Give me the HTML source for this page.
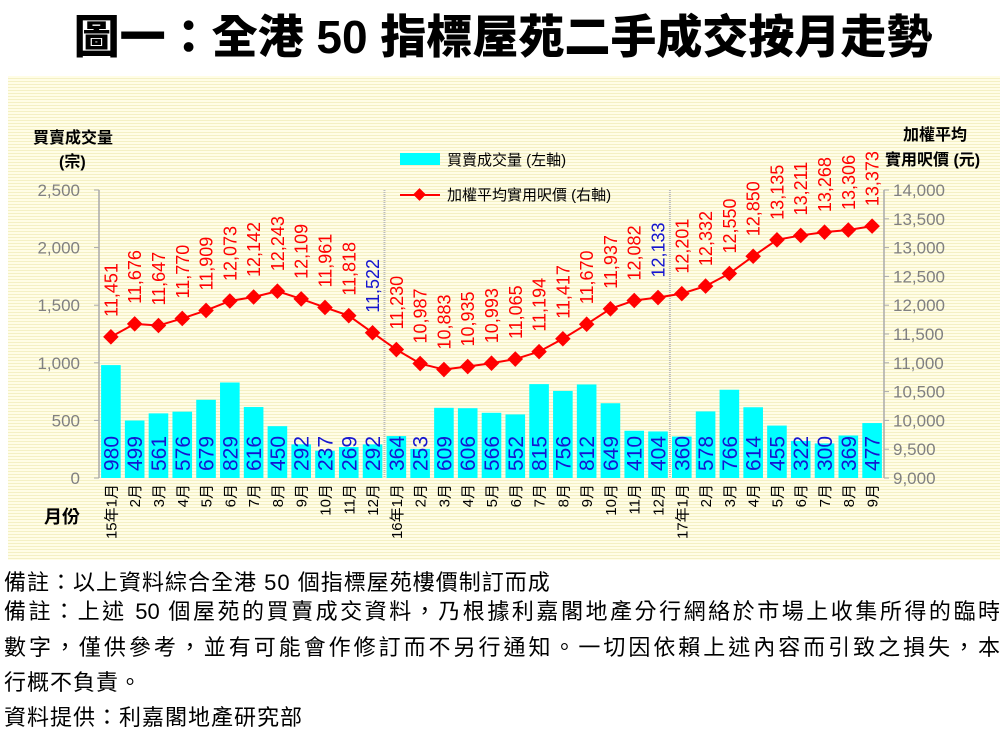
<!DOCTYPE html>
<html><head><meta charset="utf-8">
<style>
body{margin:0;width:1006px;height:741px;background:#fff;overflow:hidden;font-family:"Liberation Sans","Noto Sans CJK TC",sans-serif;}
.title{position:absolute;left:0;top:1px;width:1006px;text-align:center;font-family:"Liberation Sans","Noto Sans CJK TC",sans-serif;font-weight:900;font-size:46px;}
.panel{position:absolute;left:8px;top:76px;width:992px;height:484px;background:repeating-linear-gradient(180deg,#fffde6 0px,#fffde6 2px,#f4f0c4 2px,#f4f0c4 3px);}
.n{position:absolute;left:4px;width:996px;font-size:22px;letter-spacing:1px;line-height:24px;color:#000;white-space:nowrap;font-family:"Liberation Sans","Noto Sans CJK TC",sans-serif;}
.j{text-align:justify;text-align-last:justify;white-space:normal;letter-spacing:0;}
svg{position:absolute;left:0;top:0;}
</style></head><body>
<div class="title">圖一：全港 50 指標屋苑二手成交按月走勢</div>
<div class="panel"></div>
<svg id="s" width="1006" height="741" font-family="Liberation Sans, Noto Sans CJK TC, sans-serif"></svg>
<div class="n" style="top:571px">備註：以上資料綜合全港 50 個指標屋苑樓價制訂而成</div>
<div class="n j" style="top:600px">備註：上述 50 個屋苑的買賣成交資料，乃根據利嘉閣地產分行網絡於市場上收集所得的臨時</div>
<div class="n j" style="top:636px">數字，僅供參考，並有可能會作修訂而不另行通知。一切因依賴上述內容而引致之損失，本</div>
<div class="n" style="top:671px">行概不負責。</div>
<div class="n" style="top:706px">資料提供：利嘉閣地產研究部</div>
<script>
const bars=[980,499,561,576,679,829,616,450,292,237,269,292,364,253,609,606,566,552,815,756,812,649,410,404,360,578,766,614,455,322,300,369,477];
const pr=[11451,11676,11647,11770,11909,12073,12142,12243,12109,11961,11818,11522,11230,10987,10883,10935,10993,11065,11194,11417,11670,11937,12082,12133,12201,12332,12550,12850,13135,13211,13268,13306,13373];
const L=99,R=884,B=478,T=190,W=(R-L)/33;
const yb=v=>B-v/2500*(B-T), yp=v=>B-(v-9000)/5000*(B-T);
let s='';
const fmt=v=>v.toLocaleString('en-US');
s+=`<line x1="${L}" y1="${T}" x2="${L}" y2="${B}" stroke="#aaa" stroke-width="1.5"/>`;
s+=`<line x1="${R}" y1="${T}" x2="${R}" y2="${B}" stroke="#aaa" stroke-width="1.5"/>`;
for(let i=0;i<=5;i++){let y=yb(i*500);s+=`<line x1="${L-5}" y1="${y}" x2="${L}" y2="${y}" stroke="#aaa"/><text x="${L-19}" y="${y+6}" font-size="17" fill="#808080" text-anchor="end">${fmt(i*500)}</text>`;}
for(let i=0;i<=10;i++){let v=9000+i*500,y=yp(v);s+=`<line x1="${R}" y1="${y}" x2="${R+5}" y2="${y}" stroke="#aaa"/><text x="${R+9}" y="${y+6}" font-size="17" fill="#808080">${fmt(v)}</text>`;}
[12,24].forEach(k=>{let x=L+k*W;s+=`<line x1="${x}" y1="${T}" x2="${x}" y2="${B}" stroke="#bbb" stroke-width="2" stroke-dasharray="1 1"/>`;});
const months=[];for(let i=0;i<33;i++){let m=i%12+1;let t=m+'月';if(i==0)t='15年1月';if(i==12)t='16年1月';if(i==24)t='17年1月';months.push(t);}
let pts=[];
bars.forEach((v,i)=>{let cx=L+W*(i+0.5);let y=yb(v);
s+=`<rect x="${cx-9.8}" y="${y}" width="19.6" height="${B-y}" fill="#00ffff"/>`;
s+=`<text transform="translate(${cx+7.5},${B-7}) rotate(-90)" font-size="21" fill="#1515d0">${v}</text>`;
s+=`<text transform="translate(${cx+5.5},${B+6}) rotate(-90)" font-size="15" fill="#000" text-anchor="end">${months[i]}</text>`;
pts.push([cx,yp(pr[i])]);});
s+=`<polyline points="${pts.map(p=>p.join(',')).join(' ')}" fill="none" stroke="#ff0000" stroke-width="2"/>`;
pts.forEach((p,i)=>{s+=`<rect x="${p[0]-5.5}" y="${p[1]-5.5}" width="11" height="11" fill="#ff0000" transform="rotate(45 ${p[0]} ${p[1]})"/>`;
let col=(i==11||i==23)?'#1515d0':'#ff0000';
s+=`<text transform="translate(${p[0]+6.5},${p[1]-20}) rotate(-90)" font-size="18" fill="${col}">${fmt(pr[i])}</text>`;});
s+=`<rect x="400" y="153" width="40" height="12" fill="#00ffff"/><text x="447" y="165" font-size="15">買賣成交量 (左軸)</text>`;
s+=`<line x1="400" y1="195" x2="440" y2="195" stroke="#f00" stroke-width="2"/><rect x="415" y="190" width="9" height="9" fill="#f00" transform="rotate(45 419.5 194.5)"/><text x="447" y="200" font-size="15">加權平均實用呎價 (右軸)</text>`;
s+=`<text x="33" y="143" font-size="16" font-weight="bold">買賣成交量</text><text x="59" y="167" font-size="16" font-weight="bold">(宗)</text>`;
s+=`<text x="903" y="140" font-size="16" font-weight="bold">加權平均</text><text x="885" y="165" font-size="16" font-weight="bold">實用呎價 (元)</text>`;
s+=`<text x="44" y="523" font-size="18" font-weight="bold">月份</text>`;
document.getElementById('s').innerHTML=s;
</script>
</body></html>
